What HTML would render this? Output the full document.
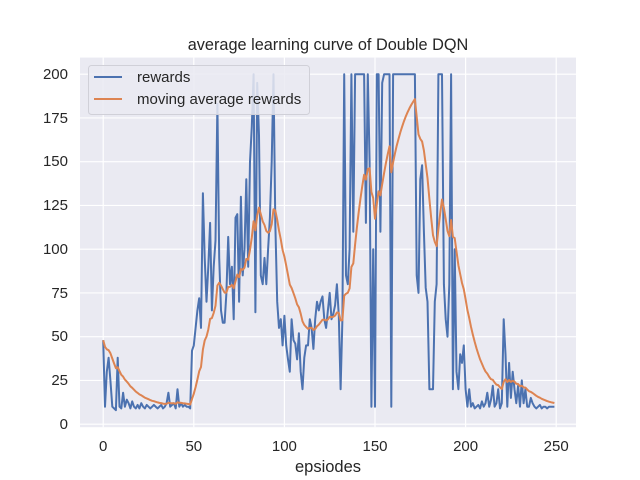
<!DOCTYPE html>
<html><head><meta charset="utf-8"><style>
body{margin:0;background:#fff;}
svg{display:block;font-family:"Liberation Sans","DejaVu Sans",sans-serif;}
</style></head><body>
<svg id="s" width="640" height="480" xmlns="http://www.w3.org/2000/svg">
<rect x="80" y="57.6" width="496" height="369.6" fill="#eaeaf2"/>
<g stroke="#fff" stroke-width="1.2">
<line x1="103.2" y1="57.6" x2="103.2" y2="427.2"/>
<line x1="193.8" y1="57.6" x2="193.8" y2="427.2"/>
<line x1="284.4" y1="57.6" x2="284.4" y2="427.2"/>
<line x1="375" y1="57.6" x2="375" y2="427.2"/>
<line x1="465.6" y1="57.6" x2="465.6" y2="427.2"/>
<line x1="556.2" y1="57.6" x2="556.2" y2="427.2"/>
<line x1="80" y1="424.2" x2="576" y2="424.2"/>
<line x1="80" y1="380.45" x2="576" y2="380.45"/>
<line x1="80" y1="336.7" x2="576" y2="336.7"/>
<line x1="80" y1="292.95" x2="576" y2="292.95"/>
<line x1="80" y1="249.2" x2="576" y2="249.2"/>
<line x1="80" y1="205.45" x2="576" y2="205.45"/>
<line x1="80" y1="161.7" x2="576" y2="161.7"/>
<line x1="80" y1="117.95" x2="576" y2="117.95"/>
<line x1="80" y1="74.2" x2="576" y2="74.2"/>
</g>
<g font-size="15" fill="#262626" text-anchor="middle">
<text x="103.2" y="451">0</text><text x="193.8" y="451">50</text><text x="284.4" y="451">100</text>
<text x="375" y="451">150</text><text x="465.6" y="451">200</text><text x="556.2" y="451">250</text>
<text x="328" y="472" font-size="16.5">epsiodes</text>
<text x="328" y="50" font-size="16.3">average learning curve of Double DQN</text>
</g>
<g font-size="15" fill="#262626" text-anchor="end">
<text x="68" y="429">0</text><text x="68" y="385">25</text><text x="68" y="341">50</text>
<text x="68" y="298">75</text><text x="68" y="254">100</text><text x="68" y="210">125</text>
<text x="68" y="166">150</text><text x="68" y="123">175</text><text x="68" y="79">200</text>
</g>
<polyline id="b" fill="none" stroke="#4c72b0" stroke-width="2" stroke-linejoin="round"/>
<polyline id="o" fill="none" stroke="#dd8452" stroke-width="2" stroke-linejoin="round"/>
<rect x="88.5" y="65.5" width="221" height="49" rx="3" fill="#eaeaf2" fill-opacity="0.85" stroke="#d0d0d8"/>
<line x1="94" y1="77" x2="122" y2="77" stroke="#4c72b0" stroke-width="2"/>
<line x1="94" y1="99" x2="122" y2="99" stroke="#dd8452" stroke-width="2"/>
<text x="137" y="82" font-size="15" fill="#262626">rewards</text>
<text x="137" y="104" font-size="15" fill="#262626">moving average rewards</text>
</svg>
<script>
var v=[48,10,30,38,25,10,9,8,38,10,9,18,10,14,12,9,13,10,9,11,9,12,10,9,11,10,9,10,11,10,9,10,11,9,10,12,18,10,11,12,9,20,10,12,10,11,10,10,9,42,
45,55,65,72,55,132,95,70,90,115,65,90,105,183,95,65,58,58,75,107,80,90,60,118,120,70,130,85,100,140,90,150,170,200,64,195,165,85,80,95,80,100,118,150,200,115,70,55,60,45,
62,45,37,30,60,48,46,37,52,30,20,38,45,45,60,55,43,60,70,65,70,73,60,55,65,75,60,63,68,80,62,20,60,200,85,80,100,200,110,200,200,200,200,200,200,115,200,150,10,100,
10,200,200,110,195,200,200,200,200,10,200,200,200,200,200,200,200,200,200,200,200,200,200,85,75,140,148,110,78,70,20,20,20,70,80,200,200,200,80,60,50,80,200,20,100,30,20,40,35,45,20,10,20,10,
12,9,10,11,9,13,10,12,18,10,14,22,10,12,20,9,12,60,40,10,35,15,30,20,12,22,10,25,12,20,10,10,15,12,10,9,10,11,9,10,10,9];
while(v.length<250)v.push(10);v.length=250;
var b=[],o=[],m=v[0];
for(var i=0;i<250;i++){var x=(103.2+i*1.812).toFixed(1);
b.push(x+","+(424.2-v[i]*1.75).toFixed(1));
if(i>0)m=m*0.9+v[i]*0.1;o.push(x+","+(424.2-m*1.75).toFixed(1));}
document.getElementById("b").setAttribute("points",b.join(" "));
document.getElementById("o").setAttribute("points",o.join(" "));
</script>
</body></html>
